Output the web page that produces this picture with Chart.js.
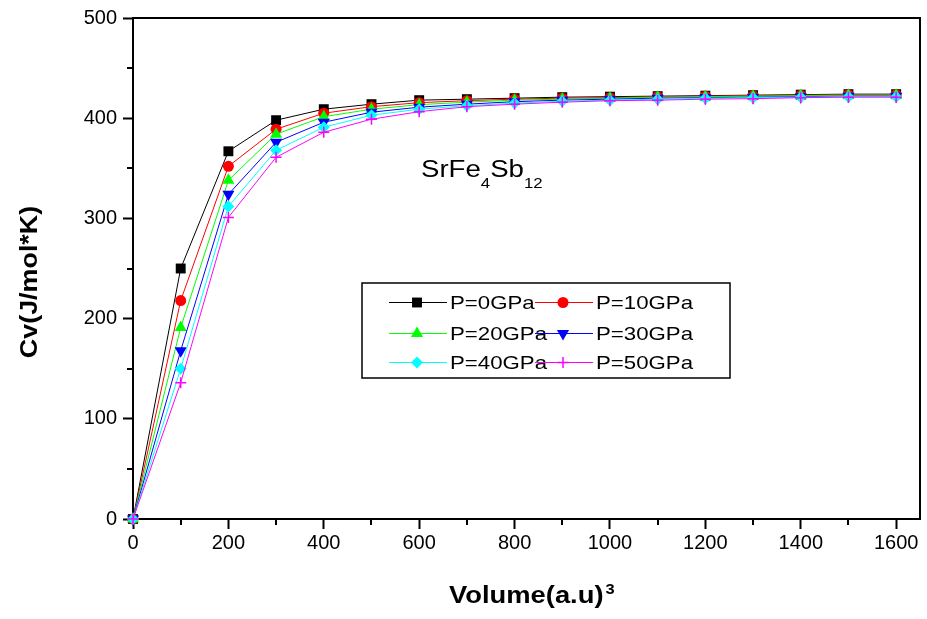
<!DOCTYPE html>
<html lang="en">
<head>
  <meta charset="UTF-8" />
  <title>Cv vs Volume - SrFe4Sb12</title>
  <script src="https://cdn.jsdelivr.net/npm/chart.js"></script>
  <style>
    html, body { margin: 0; padding: 0; background: #fff; }
  </style>
</head>
<body>
  <canvas id="cvChart" width="927" height="619"></canvas>

  <script>
    // data
    const volumes = [0, 100, 200, 300, 400, 500, 600, 700, 800, 900, 1000, 1100, 1200, 1300, 1400, 1500, 1600];
    const cvP0  = [0, 250, 367, 398, 409, 414, 418, 419, 420, 421, 421.5, 422, 422.5, 423, 423.5, 424, 424];
    const cvP10 = [0, 218, 352, 389, 405, 411.5, 415.5, 417.5, 419, 420, 420.5, 421.5, 422, 422.5, 423, 423.5, 423.5];
    const cvP20 = [0, 191, 338, 384, 401.5, 409, 413.5, 416, 418, 419, 420, 421, 421.5, 422, 422.5, 423, 423];
    const cvP30 = [0, 168, 324, 376, 396, 406, 411, 414, 416.5, 418, 419, 420, 420.5, 421, 421.5, 422, 422];
    const cvP40 = [0, 150, 312, 368, 391, 403, 409, 412.5, 415, 417, 418, 419, 420, 420.5, 421, 421.5, 421.5];
    const cvP50 = [0, 136, 301, 361, 386, 399, 406.5, 411.5, 414, 416, 417.5, 418, 419, 419.5, 420.5, 421, 421];
    const seriesLabels = ['P=0GPa', 'P=10GPa', 'P=20GPa', 'P=30GPa', 'P=40GPa', 'P=50GPa'];
    const xTicks = [0, 200, 400, 600, 800, 1000, 1200, 1400, 1600];
    const xMinorTicks = [100, 300, 500, 700, 900, 1100, 1300, 1500];
    const yTicks = [0, 100, 200, 300, 400, 500];
    const yMinorTicks = [50, 150, 250, 350, 450];

    const FONT = "'Liberation Sans', Arial, sans-serif";

    const styles = [
      { color: '#000000', pointStyle: 'rect', radius: 7, rotation: 0 },
      { color: '#ff0000', pointStyle: 'circle', radius: 5.5, rotation: 0 },
      { color: '#00ff00', pointStyle: 'triangle', radius: 7, rotation: 0 },
      { color: '#0000ff', pointStyle: 'triangle', radius: 7, rotation: 180 },
      { color: '#00ffff', pointStyle: 'rectRot', radius: 6, rotation: 0 },
      { color: '#ff00ff', pointStyle: 'cross', radius: 5.5, rotation: 0 }
    ];

    const allSeries = [cvP0, cvP10, cvP20, cvP30, cvP40, cvP50];

    const datasets = allSeries.map((vals, i) => ({
      label: seriesLabels[i],
      data: vals.map((v, k) => ({ x: volumes[k], y: v })),
      borderColor: styles[i].color,
      backgroundColor: styles[i].color,
      borderWidth: 1,
      pointStyle: styles[i].pointStyle,
      pointRadius: styles[i].radius,
      pointRotation: styles[i].rotation,
      pointBorderWidth: styles[i].pointStyle === 'cross' ? 1.5 : 0,
      fill: false,
      tension: 0,
      clip: false,
      order: 5 - i
    }));

    function stretchedText(ctx, text, x, y, sx) {
      ctx.save();
      ctx.translate(x, y);
      ctx.scale(sx, 1);
      ctx.fillText(text, 0, 0);
      ctx.restore();
      return ctx.measureText(text).width * sx;
    }

    // frame, minor ticks, titles, annotation and the boxed legend
    const decorations = {
      id: 'decorations',
      afterDraw(chart) {
        const ctx = chart.ctx;
        const a = chart.chartArea;
        const xs = chart.scales.x, ys = chart.scales.y;

        ctx.save();
        ctx.strokeStyle = '#000';
        ctx.lineWidth = 2;
        ctx.beginPath();
        ctx.moveTo(a.left, a.top);
        ctx.lineTo(a.right, a.top);
        ctx.lineTo(a.right, a.bottom);
        ctx.stroke();

        // minor ticks
        ctx.beginPath();
        xMinorTicks.forEach(v => {
          const px = Math.round(xs.getPixelForValue(v));
          ctx.moveTo(px, a.bottom);
          ctx.lineTo(px, a.bottom + 6);
        });
        yMinorTicks.forEach(v => {
          const py = Math.round(ys.getPixelForValue(v));
          ctx.moveTo(a.left, py);
          ctx.lineTo(a.left - 6, py);
        });
        ctx.stroke();

        ctx.fillStyle = '#000';
        ctx.textBaseline = 'alphabetic';
        ctx.textAlign = 'left';

        // x title
        ctx.font = 'bold 24px ' + FONT;
        const w = stretchedText(ctx, 'Volume(a.u)', 449, 603, 1.14);
        ctx.font = 'bold 15px ' + FONT;
        stretchedText(ctx, '3', 449 + w + 2, 594, 1.1);

        // y title
        ctx.save();
        ctx.translate(37, 282);
        ctx.rotate(-Math.PI / 2);
        ctx.textAlign = 'center';
        ctx.font = 'bold 24px ' + FONT;
        ctx.scale(1.12, 1);
        ctx.fillText('Cv(J/mol*K)', 0, 0);
        ctx.restore();

        // compound label
        let cx = 421;
        const base = 177;
        const parts = [['Sr', 23, 0], ['Fe', 23, 0], ['4', 14, 11], ['Sb', 23, 0], ['12', 14, 11]];
        parts.forEach(p => {
          ctx.font = p[1] + 'px ' + FONT;
          cx += stretchedText(ctx, p[0], cx, base + p[2], 1.2);
        });

        // legend
        ctx.strokeStyle = '#000';
        ctx.lineWidth = 1.5;
        ctx.strokeRect(362, 283, 368, 95);
        const rowsY = [302, 333, 362];
        const colsX = [389, 535];
        const drawPoint = Chart.helpers && Chart.helpers.drawPoint;
        chart.data.datasets.forEach((ds, i) => {
          const x0 = colsX[i % 2];
          const y0 = rowsY[Math.floor(i / 2)];
          ctx.strokeStyle = ds.borderColor;
          ctx.lineWidth = 1;
          ctx.beginPath();
          ctx.moveTo(x0, y0 + 0.5);
          ctx.lineTo(x0 + 58, y0 + 0.5);
          ctx.stroke();
          if (drawPoint) {
            ctx.fillStyle = ds.backgroundColor;
            ctx.strokeStyle = ds.borderColor;
            ctx.lineWidth = ds.pointBorderWidth || 1;
            drawPoint(ctx, {
              pointStyle: ds.pointStyle,
              rotation: ds.pointRotation,
              radius: ds.pointRadius,
              borderWidth: ds.pointBorderWidth
            }, x0 + 28, y0 + 0.5);
          }
          ctx.fillStyle = '#000';
          ctx.font = '19px ' + FONT;
          stretchedText(ctx, ds.label, x0 + 61, y0 + 7, 1.17);
        });
        ctx.restore();
      }
    };

    const tickFont = { family: FONT, size: 20 };

    new Chart(document.getElementById('cvChart').getContext('2d'), {
      type: 'line',
      data: { datasets },
      options: {
        responsive: false,
        animation: false,
        devicePixelRatio: 1,
        layout: { padding: { top: 18, right: 5, left: 0, bottom: 0 } },
        plugins: { legend: { display: false }, tooltip: { enabled: false } },
        scales: {
          x: {
            type: 'linear',
            min: 0,
            max: 1650,
            afterBuildTicks: s => { s.ticks = xTicks.map(v => ({ value: v })); },
            afterFit: s => { s.height = 100; },
            ticks: { color: '#000', font: tickFont, padding: 2, maxRotation: 0, autoSkip: false, callback: v => String(v) },
            grid: { drawOnChartArea: false, drawTicks: true, tickLength: 10, tickWidth: 2, tickColor: '#000' },
            border: { display: true, color: '#000', width: 2 }
          },
          y: {
            min: 0,
            max: 500,
            afterBuildTicks: s => { s.ticks = yTicks.map(v => ({ value: v })); },
            afterFit: s => { s.width = 133; },
            ticks: { color: '#000', font: tickFont, padding: 6, callback: v => String(v) },
            grid: { drawOnChartArea: false, drawTicks: true, tickLength: 10, tickWidth: 2, tickColor: '#000' },
            border: { display: true, color: '#000', width: 2 }
          }
        }
      },
      plugins: [decorations]
    });
  </script>
</body>
</html>
